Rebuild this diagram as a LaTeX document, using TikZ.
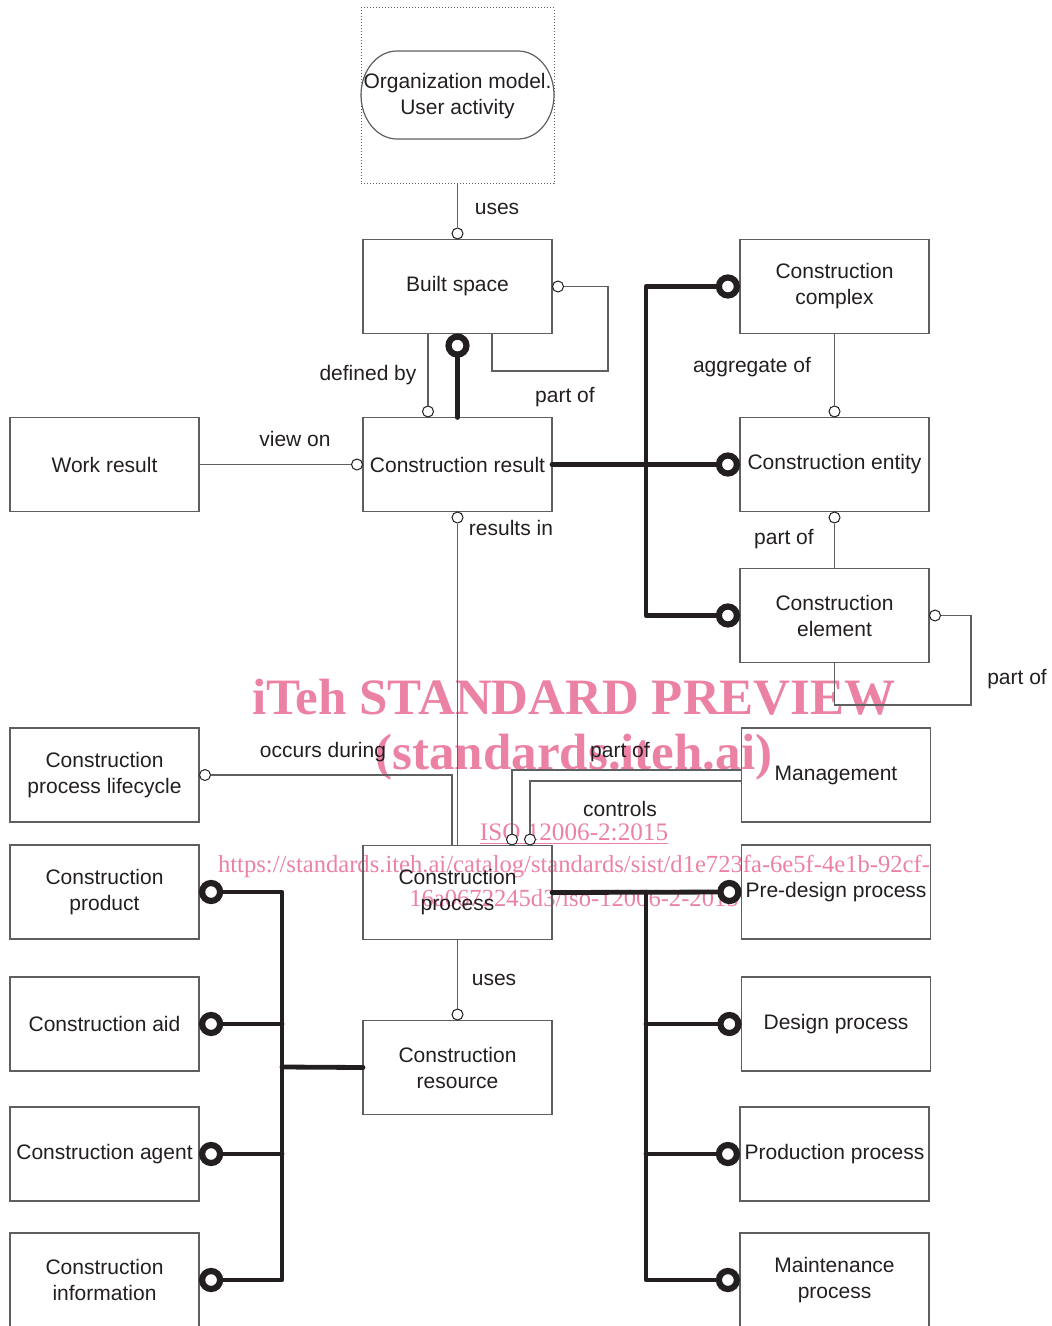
\documentclass[tikz,border=0pt]{standalone}
\usepackage{fontspec}
\setmainfont{Liberation Sans}
\newfontfamily\wmfont{Liberation Serif}
\usepackage{tikz}
\usetikzlibrary{positioning}
\usetikzlibrary{calc}

\definecolor{ink}{RGB}{35,31,32}
\definecolor{linegray}{RGB}{95,95,95}
\definecolor{wmpink}{RGB}{236,130,163}

\tikzset{
    box/.style={draw=linegray, line width=0.6pt, minimum width=94.5pt, minimum height=47pt, inner sep=1pt, outer sep=0pt, align=center, text=ink},
    rel/.style={draw=linegray, line width=0.6pt},
    strong/.style={draw=ink, line width=2.4pt, line cap=round, line join=round},
    ring/.style={circle, draw=ink, fill=white, line width=0.5pt, minimum size=5.5pt, inner sep=0pt},
    bigring/.style={circle, draw=ink, fill=white, line width=3.1pt, minimum size=9pt, inner sep=0pt},
    lbl/.style={text=ink, inner sep=1pt},
    wm/.style={text=wmpink, inner sep=0pt},
}

\begin{document}
\begin{tikzpicture}[x=0.5pt, y=-0.5pt, font=\fontsize{10.5}{13}\selectfont]

    \useasboundingbox (0,0) rectangle (1051,1326);

    % watermark
    \node[wm, font=\wmfont\bfseries\fontsize{25.5}{30}\selectfont] (wm-title) at (574,697) {iTeh STANDARD PREVIEW};
    \node[wm, font=\wmfont\bfseries\fontsize{25.5}{30}\selectfont] (wm-site) at (574,757) {(standards.iteh.ai)};
    \node[wm, font=\wmfont\fontsize{12.6}{15}\selectfont] (wm-iso) at (574,834) {\underline{ISO 12006-2:2015}};
    \node[wm, font=\wmfont\fontsize{12.3}{15}\selectfont] (wm-url1) at (574,866) {https://standards.iteh.ai/catalog/standards/sist/d1e723fa-6e5f-4e1b-92cf-};
    \node[wm, font=\wmfont\fontsize{12.3}{15}\selectfont] (wm-url2) at (574,898) {16a0672245d3/iso-12006-2-2015};

    % organization model
    \node[draw=linegray, densely dotted, line width=0.5pt, minimum width=96.5pt, minimum height=88pt] (orgframe) at (457.5,96) {};
    \draw[rel] (397,51) -- (518,51) arc[start angle=90, end angle=-90, x radius=18pt, y radius=22pt]
        -- (397,139) arc[start angle=270, end angle=90, x radius=18pt, y radius=22pt] -- cycle;
    \node[align=center, text=ink] (org) at (457.5,96) {Organization model.\\User activity};

    % middle column
    \node[box] (bspace) at (457.5,286.5) {Built space};
    \node[box, below=42pt of bspace] (cresult) {Construction result};
    \node[box, below=167pt of cresult] (cprocess) {Construction\\process};
    \node[box, below=40.5pt of cprocess] (cresource) {Construction\\resource};

    % left column
    \node[box, left=82pt of cresult] (wresult) {Work result};
    \node[box] (lifecycle) at (104.5,775) {Construction\\process lifecycle};
    \node[box, below=11.5pt of lifecycle] (cproduct) {Construction\\product};
    \node[box, below=19pt of cproduct] (caid) {Construction aid};
    \node[box, below=18pt of caid] (cagent) {Construction agent};
    \node[box, below=16pt of cagent] (cinfo) {Construction\\information};

    % right column
    \node[box, right=94pt of bspace] (ccomplex) {Construction\\complex};
    \node[box, right=94pt of cresult] (centity) {Construction entity};
    \node[box, below=28.5pt of centity] (celement) {Construction\\element};
    \node[box] (mgmt) at (836,775) {Management};
    \node[box, below=11.5pt of mgmt] (predesign) {Pre-design process};
    \node[box, below=19pt of predesign] (design) {Design process};
    \node[box, below=18pt of design, xshift=-0.75pt] (production) {Production process};
    \node[box, below=16pt of production] (maintenance) {Maintenance\\process};

    % thin relations
    \node[ring, above=0pt of bspace] (r-uses) {};
    \draw[rel] (orgframe) -- (r-uses);

    \node[ring, right=0pt of bspace] (r-bsloop) {};
    \draw[rel] (r-bsloop) -| (608,371) -| ([xshift=17.25pt]bspace.south);

    \node[ring, above=0pt of cresult.north, xshift=-14.75pt] (r-defby) {};
    \draw[rel] (r-defby) -- (r-defby |- bspace.south);

    \node[ring, left=0pt of cresult] (r-view) {};
    \draw[rel] (wresult) -- (r-view);

    \node[ring, above=0pt of centity] (r-agg) {};
    \draw[rel] (ccomplex) -- (r-agg);

    \node[ring, below=0pt of centity] (r-part) {};
    \draw[rel] (r-part) -- (celement);

    \node[ring, right=0pt of celement] (r-elloop) {};
    \draw[rel] (r-elloop) -| (971,705) -| (celement.south);

    \node[ring, below=0pt of cresult] (r-res) {};
    \draw[rel] (r-res) -- (cprocess);

    \node[ring, right=0pt of lifecycle] (r-occ) {};
    \draw[rel] (r-occ) -| ([xshift=-2.75pt]cprocess.north);

    \node[ring, above=0pt of cprocess.north, xshift=27.25pt] (r-mpart) {};
    \draw[rel] (r-mpart) |- ([yshift=2.5pt]mgmt.west);

    \node[ring, above=0pt of cprocess.north, xshift=36.25pt] (r-ctrl) {};
    \draw[rel] (r-ctrl) |- ([yshift=-3pt]mgmt.west);

    \node[ring, above=0pt of cresource] (r-uses2) {};
    \draw[rel] (cprocess) -- (r-uses2);

    % thick relations
    \node[bigring, below=0pt of bspace] (r-defined) {};
    \draw[strong] (cresult.north) -- (r-defined);

    \node[bigring, left=0pt of ccomplex] (r-cc) {};
    \node[bigring, left=0pt of centity] (r-ce) {};
    \node[bigring, left=0pt of celement] (r-cel) {};
    \coordinate (fork1) at (646,463);
    \draw[strong] (cresult.east) -- (r-ce);
    \draw[strong] (r-cc) -| (fork1) |- (r-cel);

    \node[bigring, left=0pt of predesign] (r-pre) {};
    \node[bigring, left=0pt of design] (r-des) {};
    \node[bigring, left=0pt of production] (r-prod) {};
    \node[bigring, left=0pt of maintenance] (r-main) {};
    \coordinate (fork2) at (646,892);
    \draw[strong] (cprocess.east) -- (r-pre);
    \draw[strong] (fork2) |- (r-main);
    \draw[strong] (fork2 |- r-des) -- (r-des);
    \draw[strong] (fork2 |- r-prod) -- (r-prod);

    \node[bigring, right=0pt of cproduct] (r-prd) {};
    \node[bigring, right=0pt of caid] (r-aid) {};
    \node[bigring, right=0pt of cagent] (r-agt) {};
    \node[bigring, right=0pt of cinfo] (r-inf) {};
    \coordinate (fork3) at (282,1067);
    \draw[strong] (cresource.west) -- (fork3);
    \draw[strong] (r-prd) -| (fork3) |- (r-inf);
    \draw[strong] (r-aid) -- (r-aid -| fork3);
    \draw[strong] (r-agt) -- (r-agt -| fork3);

    % labels
    \node[lbl] (l-uses) at (497,209) {uses};
    \node[lbl] (l-bspart) at (565,397) {part of};
    \node[lbl] (l-defby) at (368,375) {defined by};
    \node[lbl] (l-view) at (295,439) {view on};
    \node[lbl] (l-agg) at (752,367) {aggregate of};
    \node[lbl] (l-part) at (784,539) {part of};
    \node[lbl] (l-elpart) at (1017,679) {part of};
    \node[lbl] (l-res) at (511,528) {results in};
    \node[lbl] (l-occ) at (323,752) {occurs during};
    \node[lbl] (l-mpart) at (620,752) {part of};
    \node[lbl] (l-ctrl) at (620,809) {controls};
    \node[lbl] (l-uses2) at (494,980) {uses};

\end{tikzpicture}
\end{document}
